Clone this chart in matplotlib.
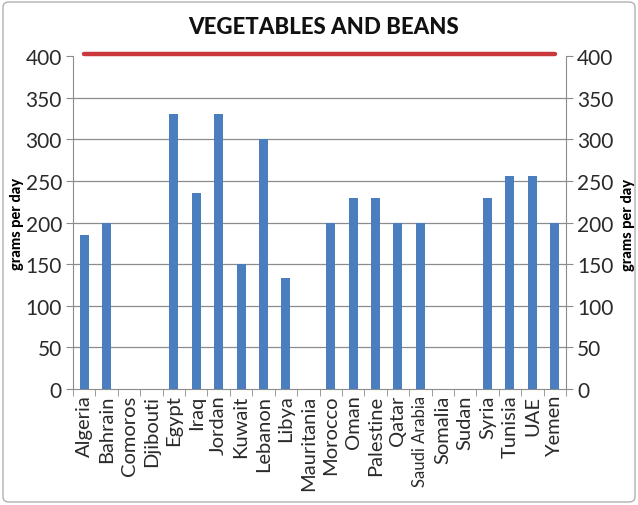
import matplotlib
matplotlib.use("Agg")
import matplotlib.pyplot as plt
from matplotlib.patches import FancyBboxPatch
import numpy as np

countries = ["Algeria", "Bahrain", "Comoros", "Djibouti", "Egypt", "Iraq", "Jordan",
             "Kuwait", "Lebanon", "Libya", "Mauritania", "Morocco", "Oman", "Palestine",
             "Qatar", "Saudi Arabia", "Somalia", "Sudan", "Syria", "Tunisia", "UAE", "Yemen"]
grams = [185, 200, 0, 0, 330, 235, 330, 150, 300, 133, 0, 200, 230, 230,
         200, 200, 0, 0, 230, 256, 256, 200]
target = 400
yticks = list(range(0, 401, 50))

plt.rcParams['font.family'] = ['Lato', 'DejaVu Sans']

fig = plt.figure(figsize=(6.38, 5.06), dpi=100)
ax = fig.add_axes([73/638, 1 - 390/506, (566 - 73)/638, (390 - 57)/506])

x = np.arange(len(countries))
# horizontal gridlines below the top value
for v in yticks[1:-1]:
    ax.axhline(v, color="#8c8c8c", lw=0.9, zorder=0)
ax.bar(x, grams, width=0.4, color="#4a7ebf", zorder=3)
ax.plot([x[0], x[-1]], [target + 2, target + 2],
        color="#c9393c", lw=3.2, zorder=4, solid_capstyle="round", clip_on=False)

ax.set_xlim(-0.5, len(countries) - 0.5)
ax.set_ylim(0, 400)
ax.set_yticks(yticks)

for s in ["left", "right", "bottom"]:
    ax.spines[s].set_color("#8c8c8c")
ax.spines["top"].set_visible(False)

ax.set_xticks(x)
ax.set_xticklabels(countries, rotation=90, fontsize=14.5, color="#2a2a2a")
for lbl in ax.get_xticklabels():
    if lbl.get_text() == "Saudi Arabia":
        lbl.set_fontsize(12)
ax.tick_params(axis="x", length=0, pad=4)
ax.set_xticks(np.arange(-0.5, len(countries)), minor=True)
ax.tick_params(axis="x", which="minor", length=5, color="#8c8c8c")
ax.tick_params(axis="y", labelsize=15, length=5, color="#8c8c8c", labelcolor="#2a2a2a",
               left=True, right=True, labelleft=True, labelright=True, pad=3)

ax.set_ylabel("grams per day", fontsize=10.5, fontweight="black")
ax.yaxis.set_label_coords(-0.1, 0.5)
fig.text(628/638, 1 - 225/506, "grams per day", rotation=90, fontsize=10.5,
         fontweight="black", ha="center", va="center")

fig.text(324/638, 1 - 28/506, "VEGETABLES AND BEANS", fontsize=16, fontweight="black",
         ha="center", va="center", color="#111111")

border = FancyBboxPatch((3/638, 3/506), 632/638, 500/506,
                        boxstyle="round,pad=0,rounding_size=0.01",
                        transform=fig.transFigure, fill=False,
                        edgecolor="#b0b0b0", lw=1)
fig.patches.append(border)

fig.savefig("out.png", dpi=100)
